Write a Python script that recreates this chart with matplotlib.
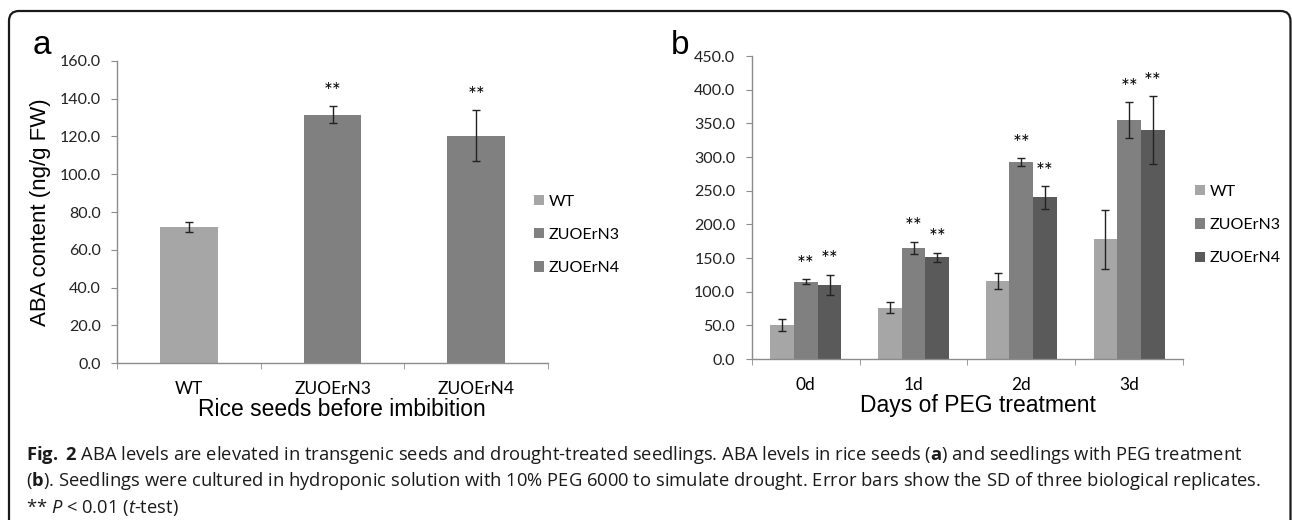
import numpy as np
import matplotlib
matplotlib.use("Agg")
import matplotlib.pyplot as plt
from matplotlib.patches import FancyBboxPatch
from matplotlib.transforms import IdentityTransform

# data
seed_lines = ["WT", "ZUOErN3", "ZUOErN4"]
seed_aba = [72.0, 131.5, 120.5]
seed_sd = [2.5, 4.6, 13.3]
seed_sig = [False, True, True]

days = ["0d", "1d", "2d", "3d"]
wt_aba = [50.5, 76.0, 116.0, 178.0]
wt_sd = [9.5, 8.0, 12.0, 44.0]
n3_aba = [115.0, 165.0, 292.5, 354.5]
n3_sd = [3.2, 9.5, 5.7, 26.7]
n4_aba = [110.0, 151.0, 240.0, 340.0]
n4_sd = [15.5, 7.0, 16.5, 51.0]

light = "#a6a6a6"
mid = "#808080"
dark = "#5a5a5a"
spine_col = "#8c8c8c"

plt.rcParams["mathtext.fontset"] = "custom"
plt.rcParams["mathtext.rm"] = "Open Sans"
plt.rcParams["mathtext.bf"] = "Open Sans:bold"
plt.rcParams["mathtext.it"] = "Open Sans:italic"

tick_font = "Lato"
label_font = "Liberation Sans"

fig = plt.figure(figsize=(12.92, 5.2), dpi=100)

ax1 = fig.add_axes([0.0909, 0.3019, 0.3332, 0.5808])
ax2 = fig.add_axes([0.5820, 0.3096, 0.3336, 0.5827])


def style_axis(ax, n, ymax, step):
    for s in ["top", "right"]:
        ax.spines[s].set_visible(False)
    for s in ["left", "bottom"]:
        ax.spines[s].set_color(spine_col)
        ax.spines[s].set_linewidth(1.0)
    ax.set_xlim(-0.5, n - 0.5)
    ax.set_ylim(0, ymax)
    ax.set_yticks(np.arange(0, ymax + 1, step))
    ax.set_yticklabels([f"{v:.1f}" for v in np.arange(0, ymax + 1, step)],
                       family=tick_font, fontsize=11.5, color="#222222")
    ax.set_xticks(np.arange(n))
    ax.set_xticks(np.arange(n + 1) - 0.5, minor=True)
    ax.tick_params(axis="x", which="major", length=0, pad=13)
    ax.tick_params(axis="x", which="minor", length=4, color=spine_col, direction="out")
    ax.tick_params(axis="y", length=4, color=spine_col, direction="out", pad=8)


# panel a
x1 = np.arange(len(seed_lines))
cols_a = [light, mid, mid]
bars_a = ax1.bar(x1, seed_aba, 0.4, color=cols_a, zorder=2)
ax1.errorbar(x1, seed_aba, yerr=seed_sd, fmt="none", ecolor="#222222",
             elinewidth=1, capsize=3, capthick=1, zorder=3)
for xi, v, e, s in zip(x1, seed_aba, seed_sd, seed_sig):
    if s:
        ax1.annotate("**", (xi, v + e), xytext=(0, 3), textcoords="offset points",
                     ha="center", va="bottom", fontsize=15, family=tick_font)
style_axis(ax1, len(seed_lines), 160, 20)
ax1.set_xticklabels(seed_lines, family=tick_font, fontsize=12.5)
ax1.set_ylabel("ABA content (ng/g FW)", family=label_font, fontsize=16, labelpad=6)
ax1.set_xlabel("Rice seeds before imbibition", family=label_font, fontsize=16.5,
               labelpad=1, x=0.522)
ax1.legend(bars_a, seed_lines, loc="center left", bbox_to_anchor=(0.935, 0.424),
           frameon=False, handlelength=0.6, handleheight=0.6, handletextpad=0.3,
           labelspacing=1.2, prop={"family": tick_font, "size": 11.5})

# panel b
x2 = np.arange(len(days))
w = 0.22
groups = [(wt_aba, wt_sd, light, "WT", False),
          (n3_aba, n3_sd, mid, "ZUOErN3", True),
          (n4_aba, n4_sd, dark, "ZUOErN4", True)]
for i, (vals, sds, col, name, sig) in enumerate(groups):
    xs = x2 + (i - 1) * w
    ax2.bar(xs, vals, w, color=col, label=name, zorder=2)
    ax2.errorbar(xs, vals, yerr=sds, fmt="none", ecolor="#222222",
                 elinewidth=1, capsize=3, capthick=1, zorder=3)
    if sig:
        for xi, v, e in zip(xs, vals, sds):
            ax2.annotate("**", (xi, v + e), xytext=(0, 3), textcoords="offset points",
                         ha="center", va="bottom", fontsize=15, family=tick_font)
style_axis(ax2, len(days), 450, 50)
ax2.set_xticklabels(days, family=tick_font, fontsize=12.5)
ax2.set_xlabel("Days of PEG treatment", family=label_font, fontsize=16.5,
               labelpad=1, x=0.525)
ax2.legend(loc="center left", bbox_to_anchor=(0.995, 0.442),
           frameon=False, handlelength=0.6, handleheight=0.6, handletextpad=0.3,
           labelspacing=1.2, prop={"family": tick_font, "size": 11.5})

# panel letters
fig.text(42 / 1292, 1 - 45 / 520, "a", family=label_font, fontsize=24, ha="center", va="center")
fig.text(680 / 1292, 1 - 45 / 520, "b", family=label_font, fontsize=24, ha="center", va="center")

# caption
cap_lines = [
    r"$\mathbf{Fig.}$ $\mathbf{2}$ ABA levels are elevated in transgenic seeds and drought-treated seedlings. "
    r"ABA levels in rice seeds ($\mathbf{a}$) and seedlings with PEG treatment",
    r"($\mathbf{b}$). Seedlings were cultured in hydroponic solution with 10% PEG 6000 to simulate "
    r"drought. Error bars show the SD of three biological replicates.",
    r"** $P$ < 0.01 ($t$-test)",
]
cap_y = [455, 481, 507]
for line, yy in zip(cap_lines, cap_y):
    fig.text(26 / 1292, 1 - yy / 520, line, family="Open Sans", fontsize=13.2,
             ha="left", va="center", color="#1a1a1a")

# rounded frame round the figure
frame = FancyBboxPatch((9, -40), 1281.5, 520 - 11 + 40,
                       boxstyle="round,pad=0,rounding_size=10",
                       transform=IdentityTransform(), fill=False,
                       edgecolor="#1a1a1a", linewidth=1.6)
fig.add_artist(frame)

fig.savefig("out.png", dpi=100)
